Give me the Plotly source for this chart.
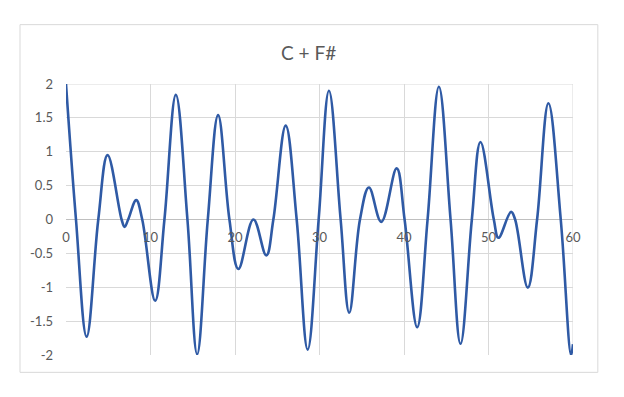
import plotly.graph_objects as go

# Curve points (x, value): extremes and zero crossings
x_vals = [0, 1.18, 2.44, 3.82, 4.92, 6.58, 6.93, 7.36, 8.31, 9.02, 10.55, 11.65,
          13.00, 14.37, 15.52, 16.78, 18.00, 19.34, 20.40, 22.18, 23.70, 24.54,
          26.00, 27.30, 28.60, 29.90, 31.12, 32.50, 33.52, 34.79, 35.85, 37.31,
          39.13, 40.07, 41.56, 42.79, 44.13, 45.51, 46.69, 48.03, 49.05, 50.63,
          51.18, 52.67, 53.15, 54.65, 55.75, 57.09, 58.55, 59.77, 60.0]
y_vals = [2.0, 0, -1.73, 0, 0.95, 0, -0.11, 0, 0.286, 0, -1.20, 0,
          1.84, 0, -1.99, 0, 1.54, 0, -0.73, 0.0, -0.53, 0,
          1.386, 0, -1.92, 0, 1.90, 0, -1.376, 0, 0.473, -0.035,
          0.754, 0, -1.59, 0, 1.96, 0, -1.835, 0, 1.144, 0,
          -0.27, 0.113, 0, -1.006, 0, 1.716, 0, -2.0, -1.84]

title_text = "C + F#"
x_ticks = [0, 10, 20, 30, 40, 50, 60]
y_ticks = [-2, -1.5, -1, -0.5, 0, 0.5, 1, 1.5, 2]

grid = "#d9d9d9"
txt = "#595959"

fig = go.Figure()
fig.add_trace(go.Scatter(
    x=x_vals, y=y_vals, mode="lines",
    line=dict(color="#2F5AA5", width=2.6, shape="spline", smoothing=1.1),
    hoverinfo="x+y", showlegend=False,
))

fig.update_layout(
    width=624, height=397,
    margin=dict(l=66, r=51, t=84, b=42),
    paper_bgcolor="white", plot_bgcolor="white",
    font=dict(family="Lato, 'Open Sans', sans-serif", color=txt, size=13),
    xaxis=dict(
        range=[0, 60], tickvals=x_ticks, ticktext=[str(v) for v in x_ticks],
        showgrid=True, gridcolor=grid, gridwidth=1,
        zeroline=False, showline=False,
        anchor="free", position=0.5, side="bottom",
        ticks="", ticklabelstandoff=8,
        tickfont=dict(size=13, color=txt),
    ),
    yaxis=dict(
        range=[-2, 2], tickvals=y_ticks, ticktext=[("%g" % v) for v in y_ticks],
        showgrid=True, gridcolor=grid, gridwidth=1,
        zeroline=True, zerolinecolor="#bfbfbf", zerolinewidth=1,
        showline=False, ticks="", ticklabelstandoff=12,
        tickfont=dict(size=13, color=txt),
    ),
    shapes=[
        dict(type="rect", xref="paper", yref="paper",
             x0=-0.0907, x1=1.049, y0=-0.064, y1=1.219,
             line=dict(color="#d9d9d9", width=1), fillcolor="rgba(0,0,0,0)", layer="below"),
        dict(type="line", xref="x", yref="y", x0=60, x1=60, y0=-2, y1=2,
             line=dict(color=grid, width=1), layer="below"),
        dict(type="line", xref="x", yref="y", x0=0, x1=60, y0=2, y1=2,
             line=dict(color=grid, width=1), layer="below"),
    ],
    annotations=[
        dict(text=title_text, xref="paper", yref="paper", x=0.478, y=1.116,
             showarrow=False, xanchor="center", yanchor="middle",
             font=dict(size=19, color=txt)),
    ],
)

fig.write_html("out.html")
